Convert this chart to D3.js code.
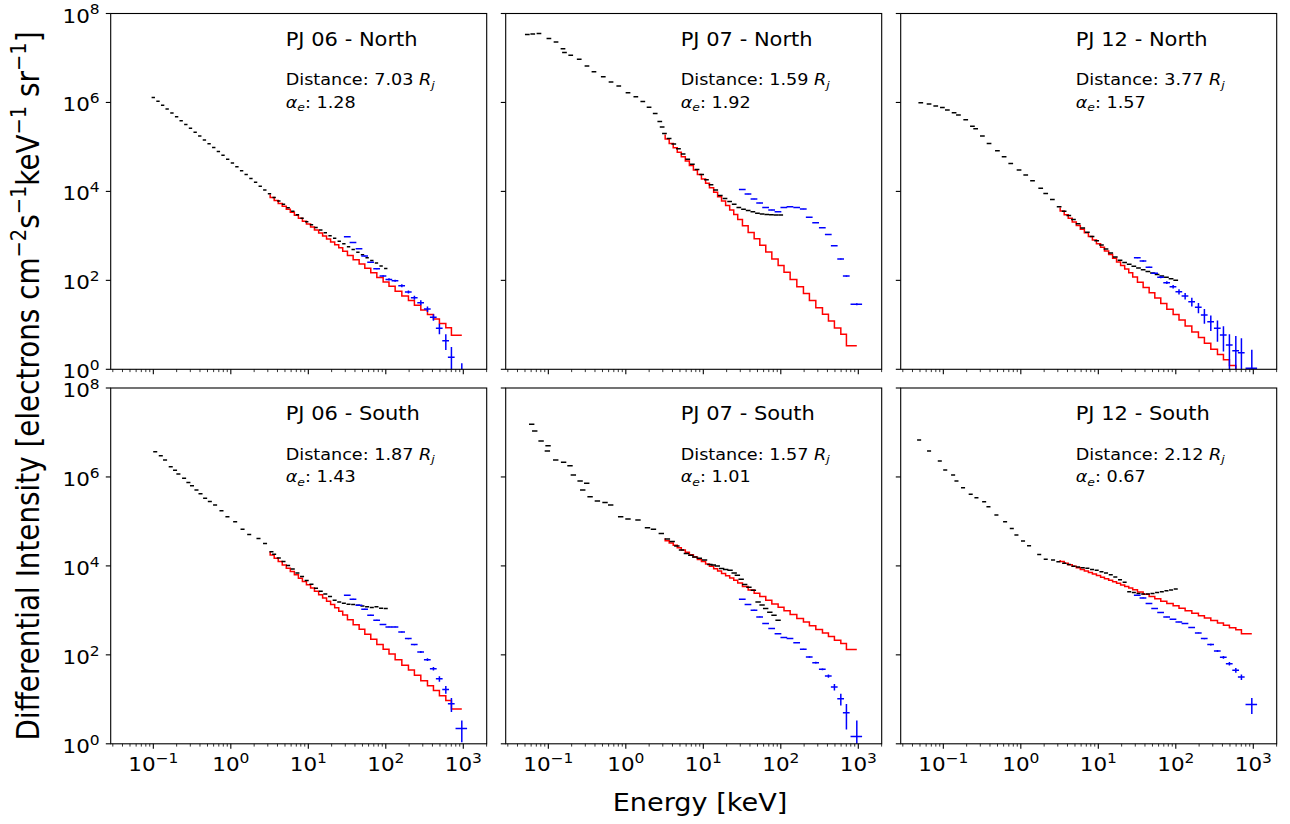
<!DOCTYPE html>
<html><head><meta charset="utf-8">
<script src="https://cdn.jsdelivr.net/npm/d3@7"></script>
<style>html,body{margin:0;padding:0;background:#fff}svg text{font-family:"DejaVu Sans",sans-serif;fill:#000}</style>
</head><body><svg id="c" width="1290" height="824"></svg>
<script>
// ---------------- DATA ----------------
const panelNames = ["PJ 06 - North","PJ 07 - North","PJ 12 - North","PJ 06 - South","PJ 07 - South","PJ 12 - South"];
const panelDistances = ["7.03","1.59","3.77","1.87","1.57","2.12"];
const panelAlphas = ["1.28","1.92","1.57","1.43","1.01","0.67"];
const xTickValues = [0.1,1,10,100,1000];
const xTickExponents = ["\u22121","0","1","2","3"];
const yTickValues = [1,1e2,1e4,1e6,1e8];
const yTickExponents = ["0","2","4","6","8"];
const xLabel = "Energy [keV]";

// JADE (black) energy grid, keV
const jadeGrid = [0.1,0.115,0.132,0.151,0.174,0.200,0.229,0.263,0.302,0.347,0.398,0.457,0.525,0.603,0.692,0.794,0.912,1.05,1.20,1.38,1.58,1.82,2.09,2.40,2.75,3.16,3.63,4.17,4.79,5.50,6.31,7.24,8.32,9.55,11.0,12.6,14.5,16.6,19.1,21.9,25.1,28.8,33.1,38.0,43.7,50.1,57.5,66.1,75.9,87.1,100];
// relative half-width of the black bars per panel
const jadeHalfWidth = [0.05,0.07,0.07,0.06,0.08,0.06];

// PJ06 North black
const pj06nJadeI = [1.29e6,1.06e6,8.67e5,7.10e5,5.81e5,4.76e5,3.90e5,3.20e5,2.62e5,2.14e5,1.76e5,1.44e5,1.18e5,9.66e4,7.91e4,6.47e4,5.31e4,4.34e4,3.56e4,2.92e4,2.39e4,1.96e4,1.60e4,1.31e4,1.08e4,8810,7330,6120,5120,4280,3570,2990,2490,2080,1790,1550,1350,1170,1010,879,762,661,573,497,431,374,324,281,244,211,184];
// PJ07 North black (low-energy part, then grid from 3.16 keV)
const pj07nLowE = [0.0537,0.0631,0.0759,0.102,0.126,0.155,0.162,0.195,0.251,0.316,0.389,0.513,0.646,0.813,1.07,1.35,1.66,2.00,2.40,2.75,2.95];
const pj07nJadeI = [3.39e7,3.47e7,3.55e7,2.75e7,2.29e7,1.62e7,1.32e7,1.15e7,9.33e6,6.61e6,4.90e6,3.80e6,2.88e6,2.34e6,1.66e6,1.35e6,1.05e6,7.76e5,5.62e5,3.72e5,2.82e5,
  2.0e5,1.55e5,1.17e5,9.12e4,6.92e4,5.25e4,4.07e4,3.09e4,2.40e4,1.82e4,1.41e4,1.07e4,8130,6920,5890,5130,4370,3980,3720,3470,3240,3090,3020,2990,2950,2950];
// PJ12 North black (low part, then grid from 3.63 keV)
const pj12nLowE = [0.0513,0.0656,0.0800,0.0975,0.113,0.138,0.157,0.195,0.238,0.262,0.320,0.390,0.500,0.610,0.743,0.951,1.16,1.42,1.81,2.10,2.56,3.13];
const pj12nJadeI = [9.84e5,9.18e5,8.28e5,7.73e5,6.73e5,5.86e5,5.20e5,4.10e5,2.90e5,2.55e5,1.75e5,1.20e5,8.20e4,6.01e4,4.26e4,3.01e4,2.33e4,1.74e4,1.17e4,9020,6610,4520,
  3570,2880,2320,1870,1500,1210,968,778,625,507,412,335,284,251,229,208,189,173,159,146,135,125,117,109,101];
// PJ06 South black
const pj06sLowE = [0.106,0.125,0.142,0.168,0.191,0.211,0.250,0.284,0.316,0.361,0.407,0.467,0.537,0.628,0.759,0.906,1.14,1.42,1.73,2.28,2.77,3.35];
const pj06sJadeI = [3.7e6,3.01e6,2.40e6,1.70e6,1.41e6,1.16e6,9.29e5,7.55e5,6.31e5,5.08e5,4.17e5,3.30e5,2.82e5,2.33e5,1.74e5,1.27e5,9.82e4,6.71e4,5.09e4,4.14e4,3.20e4,2.07e4,
  1.82e4,1.51e4,1.26e4,1.02e4,8510,6920,5750,4680,3890,3160,2690,2340,2040,1700,1550,1450,1380,1350,1300,1260,1200,1160,1200,1120,1100];
// PJ07 South black
const pj07sJadeE = [0.0612,0.0670,0.0809,0.0975,0.0995,0.125,0.158,0.191,0.211,0.258,0.279,0.314,0.347,0.431,0.541,0.640,0.861,1.07,1.44,1.91,2.28,2.88,3.45,3.98,4.57,5.25,6.07,6.92,7.76,8.91,10.4,12.2,13.5,15.2,17.3,19.5,22.2,25.1,27.6,30.9,34.3,38.9,44.4,51.1,57.5,64.0,72.4,82.0,92.5];
const pj07sJadeI = [1.53e7,1.08e7,6.44e6,3.84e6,5.06e6,2.40e6,2.13e6,1.79e6,1.10e6,8.09e5,5.08e5,7.18e5,3.60e5,2.87e5,2.68e5,2.33e5,1.27e5,1.13e5,1.07e5,7.19e4,6.71e4,5.37e4,4.00e4,3.55e4,2.82e4,2.29e4,1.91e4,1.74e4,1.58e4,1.48e4,1.35e4,1.07e4,1.05e4,1.00e4,8710,8320,7940,6920,6170,5010,3800,3310,2820,1550,1320,1100,912,776,603];
// PJ12 South black
const pj12sLowE = [0.0488,0.0656,0.0902,0.106,0.134,0.148,0.180,0.226,0.268,0.337,0.383,0.485,0.628,0.766,0.879,1.07,1.28,1.73,2.10,2.61,3.06];
const pj12sJadeI = [6.79e6,3.84e6,2.29e6,1.43e6,1.10e6,8.09e5,5.73e5,4.06e5,3.41e5,2.77e5,2.14e5,1.39e5,9.82e4,6.95e4,4.92e4,3.61e4,2.83e4,1.81e4,1.42e4,1.35e4,1.24e4,
  1.15e4,1.07e4,9770,9440,9120,8810,8320,7940,7410,6920,6310,5620,4900,4270,2630,2510,2400,2320,2340,2400,2510,2630,2750,2880,3020];

// JEDI (blue) energies, keV, and relative half-widths
const jediEnergies = [32.0,37.9,45.3,53.6,64.0,76.6,92.4,110,132,161,196,234,283,345,412,492,595,703,957];
const jediHalfWidth = [0.1,0.1,0.1,0.1,0.1,0.1,0.1,0.1,0.1,0.1,0.1,0.1,0.1,0.1,0.1,0.1,0.1,0.1,0.17];
const pj06nJediI = [958,714,515,352,254,183,125,105,98.4,75.9,54.7,40.8,31.5,22.7,14.8,8.34,4.41,1.86,0.5];
const pj06nJediErr = [19,14,10,7,5,5.5,5,6.3,4.9,6.1,4.4,4.1,4.1,3.2,2.5,2.2,1.7,1.3,0.86];
const pj07nJediI = [1.11e4,8710,6730,5470,4370,3810,3490,4370,4520,4370,4010,2610,1980,1530,1080,601,301,125,28.9];
const pj07nJediErr = [110,90,70,55,45,40,35,45,45,45,40,30,25,20,15,10,8,4,1.5];
const pj12nJediI = [323,272,196,144,117,88.7,72.1,55.6,44.5,33.2,24.7,16.6,11.8,8.34,5.91,3.52,2.62,2.37,1.05];
const pj12nJediErr = [11,9.5,7,5,5.9,6.2,6.5,7.8,7.6,7.3,6.4,6,4.5,4.2,3.4,2.6,3.0,2.6,1.7];
const pj06sJediI = [2190,1780,1310,1060,777,600,479,425,425,327,232,170,116,78.0,48.9,29.1,16.7,7.96,2.22];
const pj06sJediErr = [40,35,26,21,16,12,10,9,9,8,7,6,6,5.5,4.4,4.1,3.3,2.8,1.13];
const pj07sJediI = [1780,1350,1010,713,505,389,300,244,232,188,133,89.5,66.7,47.2,33.4,18.9,10.3,5.0,1.46];
const pj07sJediErr = [30,25,20,15,10,8,6,5,5,4,4,3,3,2.4,2.7,3.2,3.0,2.9,1.89];
const pj12sJediI = [2190,1910,1420,1100,892,713,631,550,505,410,311,232,170,122,87.9,63.4,44.9,31.8,7.69];
const pj12sJediErr = [30,25,20,15,12,10,9,8,8,8,7,7,7,6,6,5.7,5.4,4.5,3.0];

// Power-law fit (red) energies and values
const fitEnergies = [3.22,3.63,4.09,4.61,5.20,5.86,6.61,7.45,8.39,9.46,10.7,12.0,13.6,15.3,17.2,19.4,21.9,24.7,27.8,32.0,37.9,45.3,53.6,64.0,76.6,92.4,110,132,161,196,234,283,345,412,492,595,703,957];
const pj06nFit = [8500,7300,6270,5370,4610,3950,3400,2910,2500,2140,1840,1580,1350,1160,995,855,733,630,540,451,363,289,233,186,148,116,92.3,73.6,57.1,44.3,35.2,27.7,21.5,17.1,13.6,10.7,8.63,5.82];
const pj07nFit = [1.91e5,1.51e5,1.20e5,9.57e4,7.60e4,6.04e4,4.80e4,3.81e4,3.03e4,2.40e4,1.91e4,1.52e4,1.21e4,9590,7620,6050,4820,3830,3040,2320,1680,1190,863,614,434,303,215,153,105,71.6,50.7,35.3,24.1,17.2,12.2,8.49,6.15,3.40];
const pj12nFit = [4370,3610,3000,2480,2060,1710,1410,1170,971,804,667,552,457,379,314,260,216,179,148,119,91.2,68.9,52.8,40.0,30.2,22.4,17.0,12.9,9.42,6.90,5.21,3.87,2.84,2.15,1.63,1.21,0.929,0.571];
const pj06sFit = [2.09e4,1.76e4,1.48e4,1.25e4,1.05e4,8870,7480,6310,5310,4480,3770,3180,2680,2250,1900,1600,1350,1140,959,783,617,476,375,291,225,172,133,104,78.0,58.7,45.4,34.7,26.1,20.3,15.7,12.0,9.44,6.08];
const pj07sFit = [4.17e4,3.70e4,3.27e4,2.90e4,2.57e4,2.28e4,2.02e4,1.79e4,1.59e4,1.40e4,1.25e4,1.10e4,9770,8650,7670,6790,6030,5330,4730,4100,3460,2890,2440,2040,1700,1400,1180,982,804,658,548,454,372,310,259,214,181,132];
const pj12sFit = [1.35e4,1.25e4,1.15e4,1.06e4,9800,9040,8340,7690,7100,6550,6050,5590,5150,4750,4390,4050,3740,3450,3180,2900,2590,2300,2050,1820,1610,1420,1270,1120,982,861,762,673,589,522,465,409,366,297];

// ---------------- ASSEMBLY ----------------
const panels = [
  {jadeE: jadeGrid, jadeI: pj06nJadeI, jediI: pj06nJediI, jediErr: pj06nJediErr, fit: pj06nFit},
  {jadeE: pj07nLowE.concat(jadeGrid.slice(25)), jadeI: pj07nJadeI, jediI: pj07nJediI, jediErr: pj07nJediErr, fit: pj07nFit},
  {jadeE: pj12nLowE.concat(jadeGrid.slice(26)), jadeI: pj12nJadeI, jediI: pj12nJediI, jediErr: pj12nJediErr, fit: pj12nFit},
  {jadeE: pj06sLowE.concat(jadeGrid.slice(26)), jadeI: pj06sJadeI, jediI: pj06sJediI, jediErr: pj06sJediErr, fit: pj06sFit},
  {jadeE: pj07sJadeE, jadeI: pj07sJadeI, jediI: pj07sJediI, jediErr: pj07sJediErr, fit: pj07sFit},
  {jadeE: pj12sLowE.concat(jadeGrid.slice(26)), jadeI: pj12sJadeI, jediI: pj12sJediI, jediErr: pj12sJediErr, fit: pj12sFit}
];

// ---------------- LAYOUT ----------------
const PW = 376, PH = 355.8;
const colX = [110.7, 505.7, 900.7];
const rowY = [13.5, 388.0];
const SX = 1.13; // horizontal glyph stretch seen in the reference
const TICK_FS = 19, TITLE_FS = 18.6, INFO_FS = 15.6, LABEL_FS = 24, YLABEL_FS = 27.8;

const svg = d3.select("#c");
const defs = svg.append("defs");
const x = d3.scaleLog().domain([0.02818, 2005]).range([0, PW]);
const y = d3.scaleLog().domain([1, 1e8]).range([PH, 0]);

const xMinor = [];
[-2,-1,0,1,2,3].forEach(k => { for (let m = 2; m <= 9; m++) { const v = m * Math.pow(10, k); if (v >= x.domain()[0] && v <= x.domain()[1]) xMinor.push(v); } });

function addText(parent, tx, ty, fs, anchor) {
  return parent.append("text").attr("transform", `translate(${tx},${ty}) scale(${SX},1)`)
    .attr("text-anchor", anchor || "start").attr("font-size", fs);
}
function powLabel(sel, exp, fs) {
  sel.append("tspan").text("10");
  sel.append("tspan").attr("font-size", fs * 0.72).attr("dy", -fs * 0.43).text(exp);
}

panels.forEach((p, i) => {
  const col = i % 3, row = Math.floor(i / 3);
  const g = svg.append("g").attr("transform", `translate(${colX[col]},${rowY[row]})`);
  defs.append("clipPath").attr("id", "clip" + i).append("rect").attr("width", PW).attr("height", PH);
  const plot = g.append("g").attr("clip-path", `url(#clip${i})`);

  // red fit (step)
  const line = d3.line().x(d => x(d[0])).y(d => y(Math.max(d[1], 1e-3))).curve(d3.curveStepBefore);
  plot.append("path").datum(fitEnergies.map((e, j) => [e, p.fit[j]]))
    .attr("d", line).attr("fill", "none").attr("stroke", "#ff0000").attr("stroke-width", 1.5);

  // black JADE bars
  const hw = jadeHalfWidth[i];
  plot.append("g").selectAll("line").data(p.jadeE.map((e, j) => [e, p.jadeI[j]])).join("line")
    .attr("x1", d => x(d[0] * (1 - hw))).attr("x2", d => x(d[0] * (1 + hw)))
    .attr("y1", d => y(d[1])).attr("y2", d => y(d[1]))
    .attr("stroke", "#000").attr("stroke-width", 1.5);

  // blue JEDI error bars
  const jd = jediEnergies.map((e, j) => ({e, v: p.jediI[j], err: p.jediErr[j], hw: jediHalfWidth[j]}));
  const bg = plot.append("g");
  bg.selectAll("line.h").data(jd).join("line").attr("class", "h")
    .attr("x1", d => x(d.e * (1 - d.hw))).attr("x2", d => x(d.e * (1 + d.hw)))
    .attr("y1", d => y(d.v)).attr("y2", d => y(d.v))
    .attr("stroke", "#0000ff").attr("stroke-width", 1.5);
  bg.selectAll("line.v").data(jd).join("line").attr("class", "v")
    .attr("x1", d => x(d.e)).attr("x2", d => x(d.e))
    .attr("y1", d => y(d.v + d.err)).attr("y2", d => (d.v - d.err > 0 ? y(d.v - d.err) : PH + 20))
    .attr("stroke", "#0000ff").attr("stroke-width", 1.5);

  // frame
  g.append("rect").attr("width", PW).attr("height", PH).attr("fill", "none").attr("stroke", "#000").attr("stroke-width", 1.1);

  // y ticks
  yTickValues.forEach((v, j) => {
    g.append("line").attr("x1", -4.9).attr("x2", 0).attr("y1", y(v)).attr("y2", y(v)).attr("stroke", "#000").attr("stroke-width", 1.1);
    if (col === 0) powLabel(addText(g, -11, y(v) + 9, TICK_FS, "end"), yTickExponents[j], TICK_FS);
  });
  // x ticks
  xTickValues.forEach((v, j) => {
    g.append("line").attr("x1", x(v)).attr("x2", x(v)).attr("y1", PH).attr("y2", PH + 4.9).attr("stroke", "#000").attr("stroke-width", 1.1);
    if (row === 1) powLabel(addText(g, x(v), PH + 27.3, TICK_FS, "middle"), xTickExponents[j], TICK_FS);
  });
  xMinor.forEach(v => {
    g.append("line").attr("x1", x(v)).attr("x2", x(v)).attr("y1", PH).attr("y2", PH + 2.8).attr("stroke", "#000").attr("stroke-width", 0.8);
  });

  // annotations
  addText(g, 175, 32, TITLE_FS).text(panelNames[i]);
  const t1 = addText(g, 175, 71.5, INFO_FS);
  t1.append("tspan").text("Distance: " + panelDistances[i] + " ");
  t1.append("tspan").attr("font-style", "italic").text("R");
  t1.append("tspan").attr("font-style", "italic").attr("font-size", INFO_FS * 0.7).attr("dy", 3.5).text("j");
  const t2 = addText(g, 175, 94, INFO_FS);
  t2.append("tspan").attr("font-style", "italic").text("\u03b1");
  t2.append("tspan").attr("font-style", "italic").attr("font-size", INFO_FS * 0.7).attr("dy", 3.5).text("e");
  t2.append("tspan").attr("dy", -3.5).text(": " + panelAlphas[i]);
});

// axis labels
addText(svg, 700, 811, LABEL_FS, "middle").text(xLabel);
const yl = svg.append("text").attr("transform", `translate(39,386) rotate(-90) scale(1,${SX})`).attr("text-anchor", "middle").attr("font-size", YLABEL_FS);
const supFS = YLABEL_FS * 0.7, supDy = YLABEL_FS * 0.4;
yl.append("tspan").text("Differential Intensity [electrons cm");
yl.append("tspan").attr("font-size", supFS).attr("dy", -supDy).text("\u22122");
yl.append("tspan").attr("dy", supDy).text("s");
yl.append("tspan").attr("font-size", supFS).attr("dy", -supDy).text("\u22121");
yl.append("tspan").attr("dy", supDy).text("keV");
yl.append("tspan").attr("font-size", supFS).attr("dy", -supDy).text("\u22121");
yl.append("tspan").attr("dy", supDy).text(" sr");
yl.append("tspan").attr("font-size", supFS).attr("dy", -supDy).text("\u22121");
yl.append("tspan").attr("dy", supDy).text("]");
</script>
</body></html>
